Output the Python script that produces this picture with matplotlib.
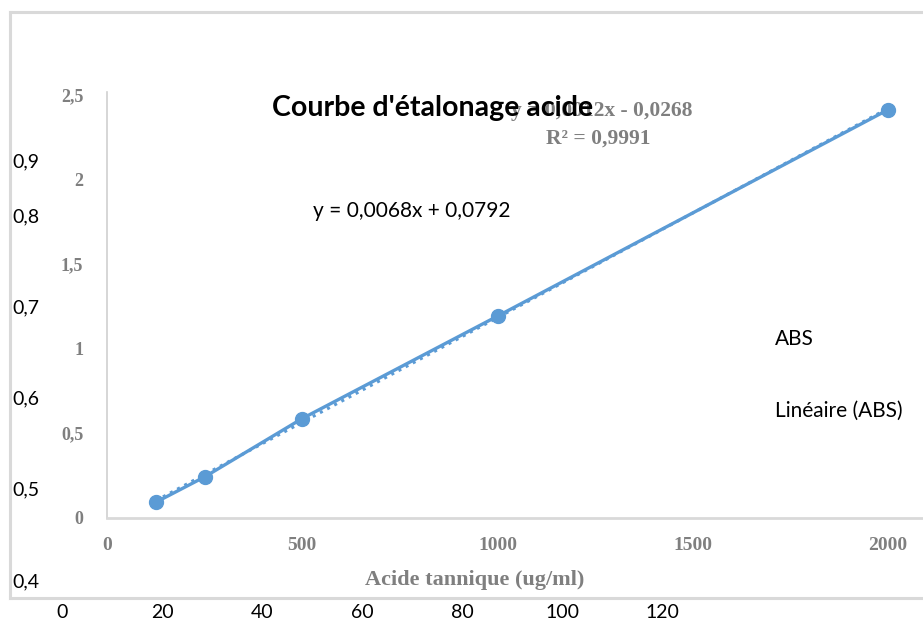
import matplotlib.pyplot as plt
import numpy as np

# courbe d'étalonnage (acide tannique)
conc = [125, 250, 500, 1000, 2000]
absb = [0.09, 0.24, 0.585, 1.19, 2.41]

inner_xticks = [0, 500, 1000, 1500, 2000]
inner_yticks = [0, 0.5, 1, 1.5, 2, 2.5]
inner_ylabels = ['0', '0,5', '1', '1,5', '2', '2,5']

# graphique de fond (axes restés visibles)
outer_xticks = [0, 20, 40, 60, 80, 100, 120]
outer_yticks = [0.4, 0.5, 0.6, 0.7, 0.8, 0.86]
outer_ylabels = ['0,4', '0,5', '0,6', '0,7', '0,8', '0,9']

W, H = 923, 625
fig = plt.figure(figsize=(W / 100, H / 100), dpi=100)


def fx(x):
    return x / W


def fy(y):
    return 1 - y / H


blue = '#5b9bd5'
grey = '#7f7f7f'
frame = '#d9d9d9'
sans = ['Lato', 'DejaVu Sans']
serif = 'Liberation Serif'

# --- axes de fond ---
ax0 = fig.add_axes([fx(10), fy(598), 1 - fx(10), fy(12) - fy(598)])
ax0.set_xlim(-10.4, -10.4 + 913 / 5)
ax0.set_ylim(0.3803, 0.3803 + 586 / 912.5)
for s in ['left', 'top', 'bottom']:
    ax0.spines[s].set_color(frame)
    ax0.spines[s].set_linewidth(2.2)
ax0.spines['right'].set_visible(False)
ax0.set_xticks(outer_xticks)
ax0.set_xticklabels([str(v) for v in outer_xticks], fontsize=14, family=sans)
ax0.set_yticks(outer_yticks)
ax0.set_yticklabels(outer_ylabels, fontsize=14, family=sans)
ax0.tick_params(axis='x', length=0, pad=4)
ax0.tick_params(axis='y', length=0, pad=-2)
for lab in ax0.get_yticklabels():
    lab.set_ha('left')

# --- courbe d'étalonnage ---
ax = fig.add_axes([fx(107), fy(517.5), 1 - fx(107), fy(92) - fy(517.5)])
ax.set_facecolor('none')
ax.set_xlim(0, (923 - 107) / 0.3905)
ax.set_ylim(0, (517.5 - 92) / 169.2)
for s in ['top', 'right']:
    ax.spines[s].set_visible(False)
ax.spines['left'].set_color('#d0d0d0')
ax.spines['left'].set_linewidth(1.2)
ax.spines['bottom'].set_color(frame)
ax.spines['bottom'].set_linewidth(2)

slope, icpt = np.polyfit(conc, absb, 1)
xt = np.array([conc[0], conc[-1]])
ax.plot(xt, slope * xt + icpt, ':', color=blue, lw=2.2)
ax.plot(conc, absb, '-o', color=blue, lw=2.4, ms=10, clip_on=False)

ax.set_xticks(inner_xticks)
ax.set_xticklabels([str(v) for v in inner_xticks], fontsize=14,
                   family=serif, fontweight='bold', color=grey)
ax.set_yticks(inner_yticks)
ax.set_yticklabels(inner_ylabels, fontsize=13, family=serif,
                   fontweight='bold', color=grey)
ax.tick_params(axis='x', length=0, pad=14)
ax.tick_params(axis='y', length=0, pad=17)
ax.set_xlabel('Acide tannique (ug/ml)', fontsize=16, family=serif,
              fontweight='bold', color=grey)
ax.xaxis.set_label_coords((475 - 107) / (923 - 107), -0.123)

# textes
fig.text(fx(602), fy(111), 'y = 0,0012x - 0,0268', fontsize=15.5, family=serif,
         fontweight='bold', color=grey, ha='center', va='center')
fig.text(fx(598), fy(139), 'R² = 0,9991', fontsize=15.5, family=serif,
         fontweight='bold', color=grey, ha='center', va='center')
fig.text(fx(433), fy(108), "Courbe d'étalonage acide", fontsize=20.5, family=sans,
         fontweight='bold', color='black', ha='center', va='center')
fig.text(fx(313), fy(211), 'y = 0,0068x + 0,0792', fontsize=15, family=sans,
         color='black', ha='left', va='center')
fig.text(fx(775), fy(339), 'ABS', fontsize=15, family=sans, color='black',
         ha='left', va='center')
fig.text(fx(775), fy(411), 'Linéaire (ABS)', fontsize=15, family=sans,
         color='black', ha='left', va='center')

fig.savefig('out.png', dpi=100)
